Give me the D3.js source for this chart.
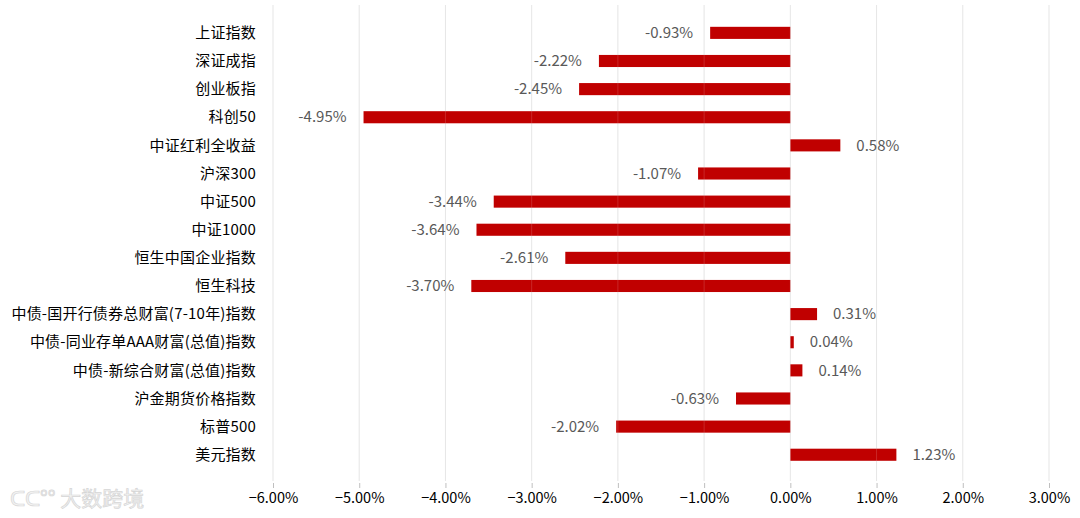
<!DOCTYPE html>
<html><head><meta charset="utf-8">
<script src="https://cdn.jsdelivr.net/npm/d3@7"></script>
<style>body{margin:0;background:#fff;}svg{display:block;}</style>
</head><body><svg id="c" width="1080" height="518"></svg>
<script>
const categories = ["上证指数","深证成指","创业板指","科创50","中证红利全收益","沪深300","中证500","中证1000","恒生中国企业指数","恒生科技","中债-国开行债券总财富(7-10年)指数","中债-同业存单AAA财富(总值)指数","中债-新综合财富(总值)指数","沪金期货价格指数","标普500","美元指数"];
const values = [-0.93,-2.22,-2.45,-4.95,0.58,-1.07,-3.44,-3.64,-2.61,-3.70,0.31,0.04,0.14,-0.63,-2.02,1.23];
const tickValues = [-6,-5,-4,-3,-2,-1,0,1,2,3];

const font = "'Noto Sans CJK SC','Microsoft YaHei',sans-serif";
const svg = d3.select("#c");
const x = d3.scaleLinear().domain([-6,3]).range([273,1049]);
const y = d3.scaleBand().domain(categories).range([18.8,468.8]).paddingInner(0.57).paddingOuter(0.285);

// gridlines
svg.append("g").selectAll("line").data(tickValues).join("line")
  .attr("x1",d=>x(d)).attr("x2",d=>x(d)).attr("y1",5).attr("y2",481)
  .attr("stroke","#e3e3e3").attr("stroke-width",1);

// bars
svg.append("g").selectAll("rect").data(values).join("rect")
  .attr("x",d=>x(Math.min(0,d))).attr("width",d=>Math.abs(x(d)-x(0)))
  .attr("y",(d,i)=>y(categories[i])).attr("height",y.bandwidth())
  .attr("fill","#C00000");

// faint gridlines over bars
svg.append("g").selectAll("line").data(tickValues).join("line")
  .attr("x1",d=>x(d)).attr("x2",d=>x(d)).attr("y1",5).attr("y2",481)
  .attr("stroke","#ffffff").attr("stroke-opacity",0.15).attr("stroke-width",1);

// axis ticks + labels
const axis = d3.axisBottom(x).tickValues(tickValues).tickSize(5).tickFormat(d=>d3.format(".2f")(d)+"%");
const ax = svg.append("g").attr("transform","translate(0,483)").call(axis);
ax.select(".domain").remove();
ax.selectAll(".tick line").attr("stroke","#bfbfbf");
ax.selectAll(".tick text").attr("y",10).attr("font-family",font).attr("font-size",14.5).attr("fill","#000");

// category labels
svg.append("g").selectAll("text").data(categories).join("text")
  .attr("x",256).attr("y",d=>y(d)+y.bandwidth()/2).attr("dy","0.35em")
  .attr("text-anchor","end").attr("font-family",font).attr("font-size",15).attr("fill","#000")
  .attr("letter-spacing",0.2)
  .text(d=>d);

// value labels
svg.append("g").selectAll("text").data(values).join("text")
  .attr("x",d=>d<0 ? x(d)-17 : x(d)+16)
  .attr("y",(d,i)=>y(categories[i])+y.bandwidth()/2).attr("dy","0.35em")
  .attr("text-anchor",d=>d<0?"end":"start")
  .attr("font-family",font).attr("font-size",15).attr("fill","#595959")
  .text(d=>d.toFixed(2)+"%");

// watermark
svg.append("text").attr("x",10).attr("y",506).attr("font-family",font).attr("font-size",21)
  .attr("fill","#f2f2f2").attr("stroke","#d6d6d6").attr("stroke-width",0.7).text("ᑕᑕ°° 大数跨境");
</script></body></html>
